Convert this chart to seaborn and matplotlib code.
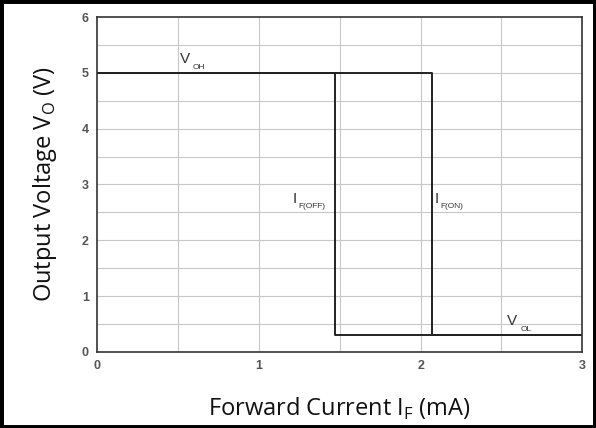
import matplotlib
matplotlib.use("Agg")
import matplotlib.pyplot as plt
from matplotlib.patches import Rectangle
import seaborn as sns
import pandas as pd

sns.set_style("white")

# Hysteresis: output voltage vs forward current
v_oh = 5.0
v_ol = 0.3
if_off = 1.47
if_on = 2.07

# rising sweep (0 -> 3 mA) and falling sweep (3 -> 0 mA)
current_up = [0, if_on, if_on, 3]
voltage_up = [v_oh, v_oh, v_ol, v_ol]
current_down = [3, if_off, if_off, 0]
voltage_down = [v_ol, v_ol, v_oh, v_oh]

df = pd.concat([
    pd.DataFrame({"current": current_up, "voltage": voltage_up, "sweep": "up"}),
    pd.DataFrame({"current": current_down, "voltage": voltage_down, "sweep": "down"}),
])

x_ticks = [0, 1, 2, 3]
y_ticks = [0, 1, 2, 3, 4, 5, 6]

# annotation labels: main letter, subscript, x, y
labels = [
    ("V", "OH", 0.51, 5.17),
    ("I", "F(OFF)", 1.21, 2.67),
    ("I", "F(ON)", 2.085, 2.67),
    ("V", "OL", 2.535, 0.48),
]

fig = plt.figure(figsize=(5.96, 4.28), dpi=100)
ax = fig.add_axes([0.163, 0.178, 0.814, 0.782])

# grid every 0.5
for v in [i * 0.5 for i in range(1, 6)]:
    ax.axvline(v, color="#c8c8c8", lw=0.8, zorder=0)
for v in [i * 0.5 for i in range(1, 12)]:
    ax.axhline(v, color="#c8c8c8", lw=0.8, zorder=0)

for sweep in ["up", "down"]:
    sns.lineplot(data=df[df["sweep"] == sweep], x="current", y="voltage",
                 sort=False, estimator=None, color="#222222", lw=1.4, ax=ax)

ax.set_xlim(0, 3)
ax.set_ylim(0, 6)
ax.set_xticks(x_ticks)
ax.set_yticks(y_ticks)
ax.tick_params(length=0, labelsize=9, labelcolor="#555555", pad=6)
for lab in ax.get_xticklabels() + ax.get_yticklabels():
    lab.set_fontfamily("Liberation Sans")
    lab.set_fontweight("bold")
for s in ax.spines.values():
    s.set_color("#333333")
    s.set_linewidth(1.2)

lab_font = {"family": "Open Sans", "size": 17, "color": "#111111"}
ax.set_xlabel(r"Forward Current I$_\mathregular{F}$ (mA)", fontdict=lab_font, labelpad=17)
ax.set_ylabel(r"Output Voltage V$_\mathregular{O}$ (V)", fontdict=lab_font, labelpad=16)

for main, sub, x, y in labels:
    ax.text(x, y, main, family="Liberation Sans", size=11, color="#333333")
    dx = 9.5 if main == "V" else 4
    ax.annotate(sub, (x, y), xytext=(dx, -4), textcoords="offset points",
                family="Liberation Sans", size=6, color="#333333")

fig.patches.append(Rectangle((0, 0), 1, 1, transform=fig.transFigure,
                             fill=False, lw=5, ec="black"))

fig.savefig("out.png", dpi=100)
